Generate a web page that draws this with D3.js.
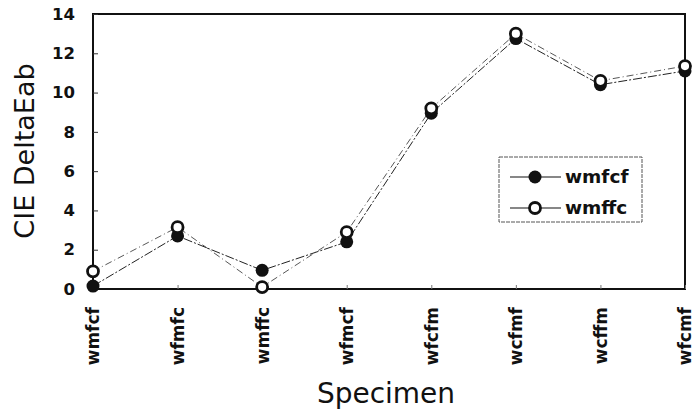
<!DOCTYPE html>
<html>
<head>
<meta charset="utf-8">
<script src="https://cdn.jsdelivr.net/npm/d3@7"></script>
<style>
  body { margin: 0; background: #fff; }
  text { font-family: "DejaVu Sans", "Liberation Sans", sans-serif; fill: #111; }
</style>
</head>
<body>
<div id="chart"></div>
<script>
// Chart data
var specimens = ["wmfcf", "wfmfc", "wmffc", "wfmcf", "wfcfm", "wcfmf", "wcffm", "wfcmf"];
var wmfcf = [0.15, 2.7, 0.95, 2.4, 8.95, 12.75, 10.4, 11.1];
var wmffc = [0.9, 3.15, 0.1, 2.9, 9.2, 13.0, 10.6, 11.35];
var yTicks = [0, 2, 4, 6, 8, 10, 12, 14];

var width = 695;
var height = 414;
var margin = { top: 14, right: 10, bottom: 125, left: 93 };
var innerW = width - margin.left - margin.right;
var innerH = height - margin.top - margin.bottom;

var svg = d3.select("#chart")
    .append("svg")
    .attr("width", width)
    .attr("height", height);

var g = svg.append("g")
    .attr("transform", "translate(" + margin.left + "," + margin.top + ")");

// Scales
var x = d3.scalePoint()
    .domain(specimens)
    .range([0, innerW]);

var y = d3.scaleLinear()
    .domain([0, 14])
    .range([innerH, 0]);

// Frame
g.append("rect")
    .attr("width", innerW)
    .attr("height", innerH)
    .attr("fill", "none")
    .attr("stroke", "#111")
    .attr("stroke-width", 2);

// Y axis (ticks point inward)
var yAxis = g.append("g")
    .call(d3.axisLeft(y).tickValues(yTicks).tickSize(-5).tickPadding(18));
yAxis.select(".domain").remove();
yAxis.selectAll("line").attr("stroke", "#333");
yAxis.selectAll("text")
    .style("font-size", "16.5px")
    .style("font-weight", "bold")
    .attr("fill", "#111");

// X axis
var xAxis = g.append("g")
    .attr("transform", "translate(0," + innerH + ")")
    .call(d3.axisBottom(x).tickSize(-4).tickPadding(0));
xAxis.select(".domain").remove();
xAxis.selectAll("line").attr("stroke", "#777");
xAxis.selectAll("text")
    .style("font-size", "17px")
    .style("font-weight", "bold")
    .attr("fill", "#111")
    .attr("transform", "rotate(-90)")
    .attr("text-anchor", "end")
    .attr("x", -18)
    .attr("y", 0)
    .attr("dy", "0.35em");

// Axis titles
svg.append("text")
    .attr("transform", "translate(34,151) rotate(-90)")
    .attr("text-anchor", "middle")
    .style("font-size", "27px")
    .text("CIE DeltaEab");

svg.append("text")
    .attr("x", 386)
    .attr("y", 403)
    .attr("text-anchor", "middle")
    .style("font-size", "28px")
    .text("Specimen");

// Lines
var line = d3.line()
    .x(function(d, i) { return x(specimens[i]); })
    .y(function(d) { return y(d); });

g.append("path")
    .datum(wmfcf)
    .attr("d", line)
    .attr("fill", "none")
    .attr("stroke", "#222")
    .attr("stroke-width", 1)
    .attr("stroke-dasharray", "9,2,2,2");

g.append("path")
    .datum(wmffc)
    .attr("d", line)
    .attr("fill", "none")
    .attr("stroke", "#444")
    .attr("stroke-width", 0.9)
    .attr("stroke-dasharray", "7,3,1,3");

// Markers: filled first, open on top
g.selectAll(".dot-filled")
    .data(wmfcf)
    .enter()
    .append("circle")
    .attr("class", "dot-filled")
    .attr("cx", function(d, i) { return x(specimens[i]); })
    .attr("cy", function(d) { return y(d); })
    .attr("r", 6.5)
    .attr("fill", "#111");

g.selectAll(".dot-open")
    .data(wmffc)
    .enter()
    .append("circle")
    .attr("class", "dot-open")
    .attr("cx", function(d, i) { return x(specimens[i]); })
    .attr("cy", function(d) { return y(d); })
    .attr("r", 5.5)
    .attr("fill", "#fff")
    .attr("stroke", "#111")
    .attr("stroke-width", 2.8);

// Legend
var legend = svg.append("g")
    .attr("transform", "translate(499,157)");

legend.append("rect")
    .attr("width", 143)
    .attr("height", 65)
    .attr("fill", "#fff")
    .attr("stroke", "#555")
    .attr("stroke-width", 1)
    .attr("stroke-dasharray", "4,1");

var legendItems = [
    { name: "wmfcf", filled: true, y: 20 },
    { name: "wmffc", filled: false, y: 51 }
];

legendItems.forEach(function(item) {
    legend.append("line")
        .attr("x1", 11).attr("x2", 62)
        .attr("y1", item.y).attr("y2", item.y)
        .attr("stroke", "#111")
        .attr("stroke-width", 1.2);
    legend.append("circle")
        .attr("cx", 36)
        .attr("cy", item.y)
        .attr("r", item.filled ? 6.5 : 5.5)
        .attr("fill", item.filled ? "#111" : "#fff")
        .attr("stroke", item.filled ? "none" : "#111")
        .attr("stroke-width", 2.8);
    legend.append("text")
        .attr("x", 66)
        .attr("y", item.y)
        .attr("dy", "0.35em")
        .style("font-size", "18.5px")
        .style("font-weight", "bold")
        .text(item.name);
});
</script>
</body>
</html>
